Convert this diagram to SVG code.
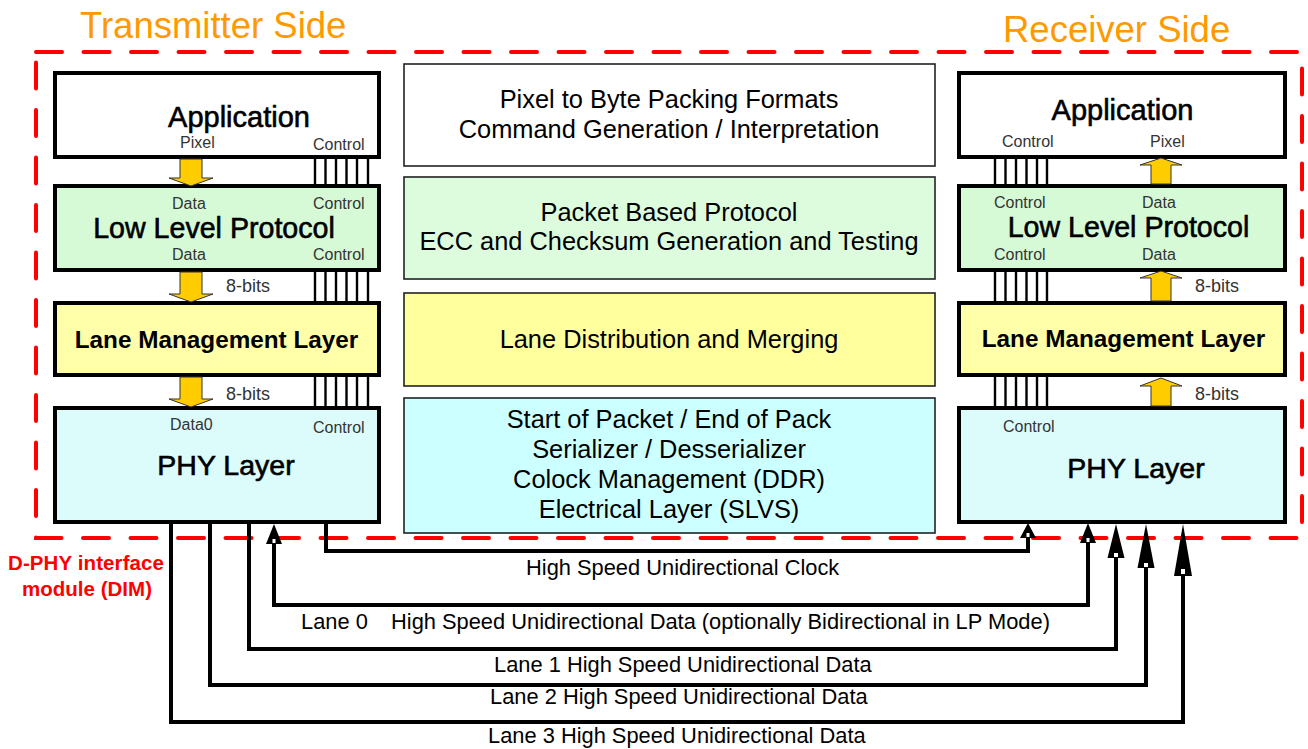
<svg xmlns="http://www.w3.org/2000/svg" width="1308" height="749" viewBox="0 0 1308 749">
<style>
text{font-family:"Liberation Sans",Arial,sans-serif;fill:#000}
.big{font-size:29px;stroke:#000;stroke-width:0.6}
.lml{font-size:24.3px;font-weight:bold}
.small{font-size:16px;fill:#333}
.bits{font-size:18px;fill:#333}
.mid{font-size:25.4px;text-anchor:middle}
.lbl{font-size:21.85px}
.hdr{font-size:36.5px;fill:#ff9900}
.red{font-size:20.5px;font-weight:bold;fill:#ff0000}
.box{stroke:#000;stroke-width:4}
.mbox{stroke:#222;stroke-width:1.6}
.ctl{stroke:#000;stroke-width:2.4}
.yarrow{fill:#ffcc00;stroke:#333;stroke-width:1}
.wire{fill:none;stroke:#000;stroke-width:4;stroke-linejoin:miter}
.head{fill:#000}
.notch{fill:#fff}
.white{fill:#fff}.green{fill:#d6fad6}.yellow{fill:#ffffaa}.cyan{fill:#dcfcfc}
.mgreen{fill:#ddfcdd}.myellow{fill:#ffff9e}.mcyan{fill:#ccffff}
</style>

<rect x="36" y="52" width="1266" height="486" fill="none" stroke="#ff0000" stroke-width="4" stroke-dasharray="26 21.5" stroke-linecap="round"/>
<text class="hdr" x="80" y="38">Transmitter Side</text>
<text class="hdr" x="1003" y="42">Receiver Side</text>
<text class="red" x="8" y="570" textLength="156">D-PHY interface</text>
<text class="red" x="22" y="596" textLength="130">module (DIM)</text>

<!-- Transmitter side -->
<g id="tx-application">
<rect class="box white" x="55" y="73" width="324" height="84"/>
<text class="big" x="239" y="127" text-anchor="middle">Application</text>
<text class="small" x="180" y="148">Pixel</text>
<text class="small" x="313" y="150">Control</text>
</g>
<g id="tx-llp">
<rect class="box green" x="55" y="186" width="324" height="84"/>
<text class="small" x="172" y="209">Data</text>
<text class="small" x="313" y="209">Control</text>
<text class="big" x="214" y="238" text-anchor="middle" style="font-size:28.6px">Low Level Protocol</text>
<text class="small" x="172" y="260">Data</text>
<text class="small" x="313" y="260">Control</text>
</g>
<g id="tx-lml">
<rect class="box yellow" x="55" y="303" width="324" height="72"/>
<text class="lml" x="216.5" y="348" text-anchor="middle">Lane Management Layer</text>
</g>
<g id="tx-phy">
<rect class="box cyan" x="55" y="408" width="324" height="114"/>
<text class="small" x="170" y="430">Data0</text>
<text class="small" x="313" y="433">Control</text>
<text class="big" x="226" y="475" text-anchor="middle" style="font-size:28.5px">PHY Layer</text>
</g>

<!-- Middle descriptions -->
<g id="mid-app">
<rect class="mbox white" x="404" y="64" width="531" height="102"/>
<text class="mid" x="669" y="108">Pixel to Byte Packing Formats</text>
<text class="mid" x="669" y="138">Command Generation / Interpretation</text>
</g>
<g id="mid-llp">
<rect class="mbox mgreen" x="404" y="177" width="531" height="102"/>
<text class="mid" x="669" y="221">Packet Based Protocol</text>
<text class="mid" x="669" y="250">ECC and Checksum Generation and Testing</text>
</g>
<g id="mid-lml">
<rect class="mbox myellow" x="404" y="293" width="531" height="93"/>
<text class="mid" x="669" y="348">Lane Distribution and Merging</text>
</g>
<g id="mid-phy">
<rect class="mbox mcyan" x="404" y="398" width="531" height="135"/>
<text class="mid" x="669" y="428">Start of Packet / End of Pack</text>
<text class="mid" x="669" y="458">Serializer / Desserializer</text>
<text class="mid" x="669" y="488">Colock Management (DDR)</text>
<text class="mid" x="669" y="518">Electrical Layer (SLVS)</text>
</g>

<!-- Receiver side -->
<g id="rx-application">
<rect class="box white" x="959" y="73" width="326" height="84"/>
<text class="big" x="1122.5" y="120" text-anchor="middle">Application</text>
<text class="small" x="1002" y="147">Control</text>
<text class="small" x="1150" y="147">Pixel</text>
</g>
<g id="rx-llp">
<rect class="box green" x="959" y="186" width="326" height="84"/>
<text class="small" x="994" y="208">Control</text>
<text class="small" x="1142" y="208">Data</text>
<text class="big" x="1128.5" y="237" text-anchor="middle" style="font-size:28.6px">Low Level Protocol</text>
<text class="small" x="994" y="260">Control</text>
<text class="small" x="1142" y="260">Data</text>
</g>
<g id="rx-lml">
<rect class="box yellow" x="959" y="303" width="326" height="72"/>
<text class="lml" x="1123.5" y="347" text-anchor="middle">Lane Management Layer</text>
</g>
<g id="rx-phy">
<rect class="box cyan" x="959" y="408" width="326" height="114"/>
<text class="small" x="1003" y="432">Control</text>
<text class="big" x="1136" y="478" text-anchor="middle" style="font-size:28.5px">PHY Layer</text>
</g>

<g id="connectors">
<g class="ctl">
<path d="M315 157V186M325.5 157V186M336 157V186M346.5 157V186M357 157V186M368 157V186"/>
<path d="M315 270V303M325.5 270V303M336 270V303M346.5 270V303M357 270V303M368 270V303"/>
<path d="M315 375V408M325.5 375V408M336 375V408M346.5 375V408M357 375V408M368 375V408"/>
<path d="M995 157V186M1005.5 157V186M1016 157V186M1026.5 157V186M1037 157V186M1047 157V186"/>
<path d="M995 270V303M1005.5 270V303M1016 270V303M1026.5 270V303M1037 270V303M1047 270V303"/>
<path d="M995 375V408M1005.5 375V408M1016 375V408M1026.5 375V408M1037 375V408M1047 375V408"/>
</g>
<polygon class="yarrow" points="180,159 202,159 202,178 213,178 191,186 169,178 180,178"/>
<polygon class="yarrow" points="180,272 202,272 202,294 213,294 191,302 169,294 180,294"/>
<polygon class="yarrow" points="180,377 202,377 202,399 213,399 191,407 169,399 180,399"/>
<text class="bits" x="226" y="292">8-bits</text>
<text class="bits" x="226" y="400">8-bits</text>
<polygon class="yarrow" points="1151,184 1171,184 1171,165 1182,165 1161,158 1140,165 1151,165"/>
<polygon class="yarrow" points="1151,301 1171,301 1171,278 1182,278 1161,271 1140,278 1151,278"/>
<polygon class="yarrow" points="1151,406 1171,406 1171,386 1182,386 1161,378 1140,386 1151,386"/>
<text class="bits" x="1195" y="292">8-bits</text>
<text class="bits" x="1195" y="400">8-bits</text>

<path class="wire" d="M326 523V551H1028V536"/>
<polygon class="head" points="1028,523 1036,538 1020,538"/>
<rect class="notch" x="1026.5" y="533" width="3" height="4"/>

<path class="wire" d="M274 543V605H1088V542"/>
<polygon class="head" points="274,524 282,544 266,544"/>
<rect class="notch" x="272.5" y="539" width="3" height="4"/>
<polygon class="head" points="1088,523 1096,543 1080,543"/>
<rect class="notch" x="1086.5" y="538" width="3" height="4"/>

<path class="wire" d="M249 523V649H1116V557"/>
<polygon class="head" points="1116,524 1124.5,558 1107.5,558"/>
<rect class="notch" x="1114" y="553" width="4" height="4"/>

<path class="wire" d="M210 523V685H1146V567"/>
<polygon class="head" points="1146,524 1154.5,568 1137.5,568"/>
<rect class="notch" x="1144" y="563" width="4" height="4"/>

<path class="wire" d="M171 523V722H1183V575"/>
<polygon class="head" points="1183,524 1192,576 1174,576"/>
<rect class="notch" x="1181" y="569" width="4" height="5"/>

<text class="lbl" x="526" y="575">High Speed Unidirectional Clock</text>
<text class="lbl" x="301" y="629">Lane 0</text>
<text class="lbl" x="391" y="629">High Speed Unidirectional Data (optionally Bidirectional in LP Mode)</text>
<text class="lbl" x="494" y="672">Lane 1 High Speed Unidirectional Data</text>
<text class="lbl" x="490" y="704">Lane 2 High Speed Unidirectional Data</text>
<text class="lbl" x="488" y="743">Lane 3 High Speed Unidirectional Data</text>
</g>
</svg>
